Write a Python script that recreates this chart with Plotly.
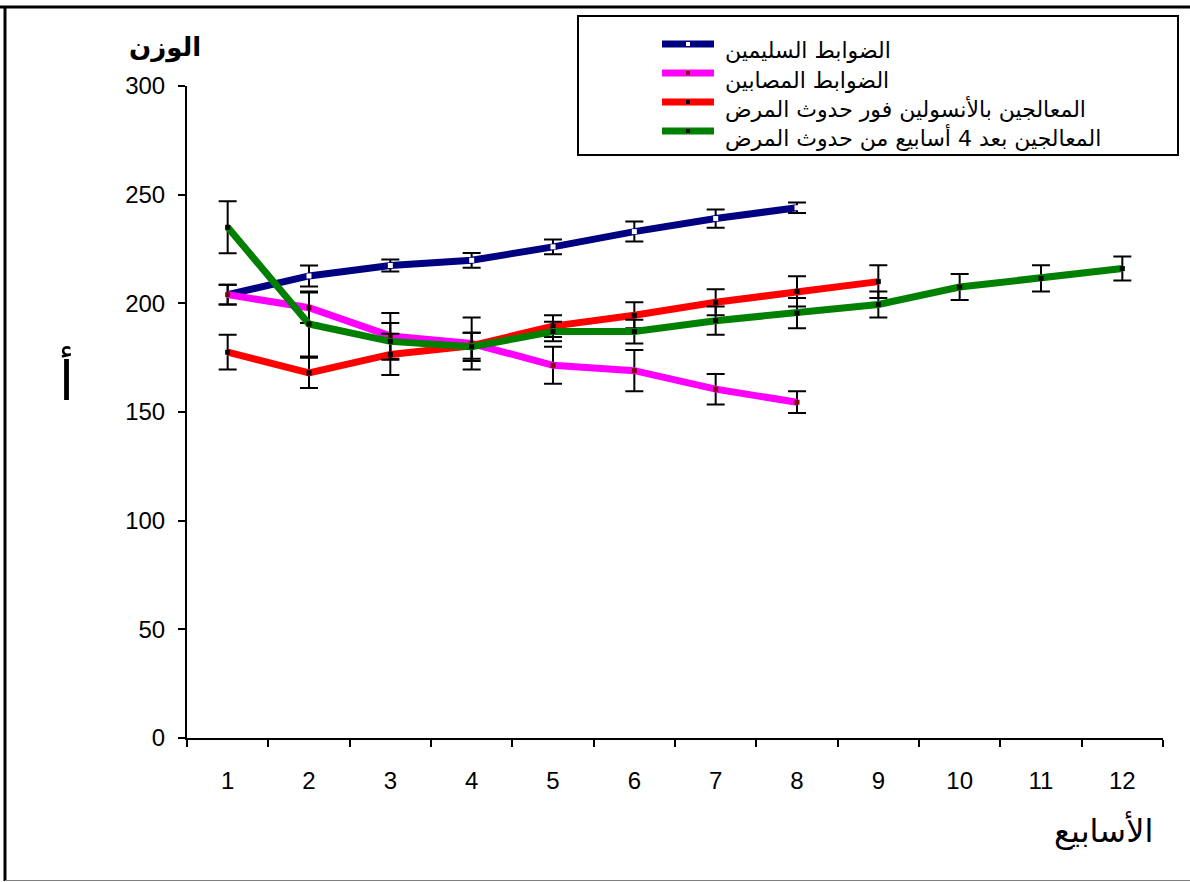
import plotly.graph_objects as go

# Weekly body weight of the four groups (mean ± error)
weeks = ["1", "2", "3", "4", "5", "6", "7", "8", "9", "10", "11", "12"]

names = [
    "الضوابط السليمين",
    "الضوابط المصابين",
    "المعالجين بالأنسولين فور حدوث المرض",
    "المعالجين بعد 4 أسابيع من حدوث المرض",
]

healthy = [204, 212.6, 217.4, 219.8, 226, 233, 239, 244]
healthy_err = [4.5, 4.8, 2.8, 3.4, 3.4, 4.6, 4.2, 2.4]

diseased = [204, 198, 185, 181.5, 171.5, 169, 160.5, 154.5]
diseased_err = [4.5, 7, 10.5, 12, 8.5, 9.5, 7, 5]

insulin_now = [177.5, 168, 176.5, 180.5, 189.5, 194.5, 200.5, 205.5, 210]
insulin_now_err = [8, 7, 9.5, 6, 5, 6, 6, 7, 7.5]

insulin_late = [235, 190.5, 182.5, 180, 187, 187, 192, 195.5, 199.5, 207.5, 211.5, 216]
insulin_late_err = [12, 15, 8.5, 6.5, 4.5, 5.5, 6.5, 7, 6, 6, 6, 5.5]

y_ticks = [0, 50, 100, 150, 200, 250, 300]

series = [
    (healthy, healthy_err, "#000080", "#ffffff"),
    (diseased, diseased_err, "#ff00ff", "#800000"),
    (insulin_now, insulin_now_err, "#ff0000", "#000000"),
    (insulin_late, insulin_late_err, "#008000", "#000000"),
]

W, H = 1190, 882
ML, MR, MT, MB = 187, 27, 86, 144
PW, PH = W - ML - MR, H - MT - MB


def px(x):
    return (x - ML) / PW


def py(y):
    return (H - MB - y) / PH


fig = go.Figure()
for (vals, errs, col, dot), name in zip(series, names):
    fig.add_trace(go.Scatter(
        x=weeks[:len(vals)], y=vals, name=name, mode="lines+markers",
        line=dict(color=col, width=7),
        marker=dict(color=dot, size=5, symbol="square"),
        error_y=dict(type="data", array=errs, visible=True,
                     color="#000000", thickness=2, width=9),
        showlegend=False,
    ))

shapes = []
annotations = []

# outer frame
shapes.append(dict(type="line", xref="paper", yref="paper",
                   x0=px(0), x1=px(W), y0=py(7), y1=py(7),
                   line=dict(color="#000000", width=3)))
shapes.append(dict(type="line", xref="paper", yref="paper",
                   x0=px(5), x1=px(5), y0=py(7), y1=py(881),
                   line=dict(color="#000000", width=3)))
shapes.append(dict(type="line", xref="paper", yref="paper",
                   x0=px(5), x1=px(W), y0=py(880.5), y1=py(880.5),
                   line=dict(color="#808080", width=1)))

# legend box
shapes.append(dict(type="rect", xref="paper", yref="paper",
                   x0=px(578), x1=px(1178), y0=py(16), y1=py(155),
                   line=dict(color="#000000", width=2), fillcolor="#ffffff"))
leg_y = [44, 73, 102, 131]
for (vals, errs, col, dot), name, ly in zip(series, names, leg_y):
    shapes.append(dict(type="line", xref="paper", yref="paper",
                       x0=px(662), x1=px(714), y0=py(ly), y1=py(ly),
                       line=dict(color=col, width=7)))
    shapes.append(dict(type="rect", xref="paper", yref="paper",
                       x0=px(686), x1=px(690), y0=py(ly - 2), y1=py(ly + 2),
                       line=dict(width=0), fillcolor=dot))
    annotations.append(dict(xref="paper", yref="paper", x=px(723), y=py(ly + 7),
                             xanchor="left", yanchor="middle", showarrow=False,
                             text=name,
                             font=dict(family="DejaVu Sans", size=22, color="#000000")))

# axis titles
annotations.append(dict(xref="paper", yref="paper", x=px(165), y=py(47),
                        xanchor="center", yanchor="middle", showarrow=False,
                        text="<b>الوزن</b>",
                        font=dict(family="DejaVu Sans", size=26, color="#000000")))
annotations.append(dict(xref="paper", yref="paper", x=px(66), y=py(380),
                        xanchor="center", yanchor="middle", showarrow=False,
                        text="أ",
                        font=dict(family="DejaVu Sans", size=54, color="#000000")))
annotations.append(dict(xref="paper", yref="paper", x=px(1103), y=py(830),
                        xanchor="center", yanchor="middle", showarrow=False,
                        text="الأسابيع",
                        font=dict(family="DejaVu Sans", size=32, color="#000000")))

fig.update_layout(
    width=W, height=H,
    margin=dict(l=ML, r=MR, t=MT, b=MB, pad=0),
    paper_bgcolor="#ffffff", plot_bgcolor="#ffffff",
    font=dict(family="Liberation Sans, Arial", size=24, color="#000000"),
    shapes=shapes, annotations=annotations,
    xaxis=dict(type="category", categoryorder="array", categoryarray=weeks,
               range=[-0.5, len(weeks) - 0.5], tickson="boundaries",
               showline=True, linecolor="#000000", linewidth=2,
               ticks="outside", ticklen=7, tickwidth=2, tickcolor="#000000",
               showgrid=False, zeroline=False, ticklabelstandoff=20,
               tickfont=dict(size=24)),
    yaxis=dict(range=[0, 300], tickvals=y_ticks, ticktext=[str(t) for t in y_ticks],
               showline=True, linecolor="#000000", linewidth=2,
               ticks="outside", ticklen=7, tickwidth=2, tickcolor="#000000",
               showgrid=False, zeroline=False, ticklabelstandoff=8,
               tickfont=dict(size=24)),
)

fig.write_html("out.html")
